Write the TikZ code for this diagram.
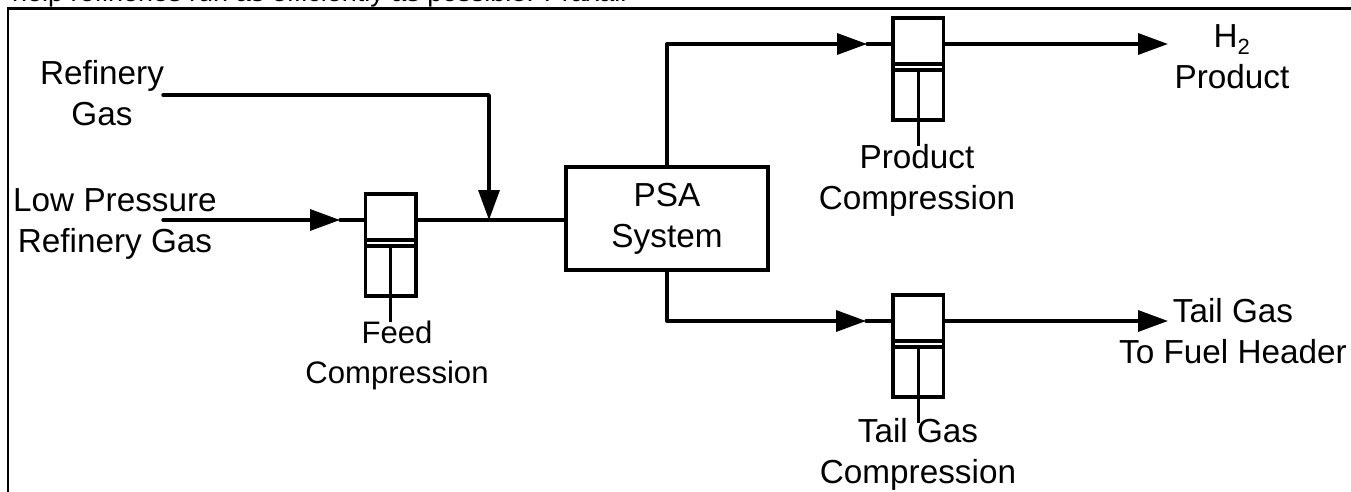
\documentclass[tikz,border=0pt]{standalone}
\usepackage{fontspec}
\setmainfont{Liberation Sans}
\usetikzlibrary{arrows.meta}
\newcommand{\lbl}{\fontsize{33.3}{41}\selectfont}
\tikzset{
  x=1pt,y=-1pt,
  flow/.style={line width=3.4pt,line cap=round,line join=round,black},
  arrowflow/.style={flow,-{Triangle[length=30pt,width=21pt]}},
  txt/.style={inner sep=0pt,align=center,font=\lbl},
  txtb/.style={inner sep=0pt,align=center,font=\fontsize{31.1}{40}\selectfont},
  psa/.style={draw,line width=3.4pt,minimum width=202pt,minimum height=103pt,inner sep=0pt,align=center,font=\lbl},
  cylbox/.style={draw,line width=3.4pt,minimum width=50.5pt,minimum height=102pt,inner sep=0pt},
}
\newcommand{\compressor}[3]{%
  \node[cylbox] (#1) at (#2,#3) {};
  \draw[flow,line cap=butt] ([yshift=5pt]#1.west) -- ([yshift=5pt]#1.east);
  \draw[flow,line cap=butt] ([yshift=-1pt]#1.west) -- ([yshift=-1pt]#1.east);
  \coordinate (#1rod) at ([yshift=-1pt]#1.center);
  \coordinate (#1end) at ([yshift=-77pt]#1.center);
  \coordinate (#1in) at ([yshift=25pt]#1.west);
  \coordinate (#1out) at ([yshift=25pt]#1.east);
  \draw[flow,line cap=butt] (#1rod) -- (#1end);
}
\begin{document}
\begin{tikzpicture}
\useasboundingbox (0,0) rectangle (1351,492);
\path[fill=white] (0,0) rectangle (1351,492);
\node[anchor=base west,inner sep=0pt,font=\fontsize{27}{32}\selectfont] (top) at (12,2) {help refineries run as efficiently as possible. Praxair};
\draw[line width=2.5pt] (8,492) -- (8,8.5) -- (1351,8.5);
\node[psa] (psa) at (667,218.5) {\raisebox{-1.5pt}{\begin{tabular}{@{}c@{}}PSA\\System\end{tabular}}};
\compressor{feed}{390.7}{245}
\compressor{prod}{918.3}{69}
\compressor{tail}{918.3}{346}
% labels
\node[txt] (refgas) at (102,93) {Refinery\\Gas};
\node[txt] (lpgas) at (115,224) {Low Pressure\\Refinery Gas};
\node[txtb] (feedl) at (397,355) {Feed\\Compression};
\node[txt] (prodl) at (917,180) {Product\\Compression};
\node[txt] (taill) at (918,454) {Tail Gas\\Compression};
\node[txt] (h2) at (1232,57) {H\textsubscript{\fontsize{22}{24}\selectfont 2}\\Product};
\node[txt] (taillab) at (1233,331) {Tail Gas\\To Fuel Header};
% coordinates
\coordinate (rs) at (163,95);
\coordinate (rc) at (489,95);
\coordinate (rj) at (489,220);
\coordinate (ls) at (163,220);
\coordinate (la) at (340,220);
\coordinate (pa) at (667,44);
\coordinate (pt) at (867,44);
\coordinate (ta) at (667,321);
\coordinate (tt) at (866,321);
\coordinate (h2e) at (1168,44);
\coordinate (te) at (1168,321);
% connectors
\draw[arrowflow] (rs) -- (rc) -- (rj);
\draw[arrowflow] (ls) -- (la);
\draw[flow] (la) -- (feedin);
\draw[flow] (feedout) -- (psa.west |- feedout);
\draw[arrowflow] (psa.north) -- (pa) -- (pt);
\draw[flow] (pt) -- (prodin);
\draw[arrowflow] (prodout) -- (h2e);
\draw[arrowflow] (psa.south) -- (ta) -- (tt);
\draw[flow] (tt) -- (tailin);
\draw[arrowflow] (tailout) -- (te);
\end{tikzpicture}
\end{document}
